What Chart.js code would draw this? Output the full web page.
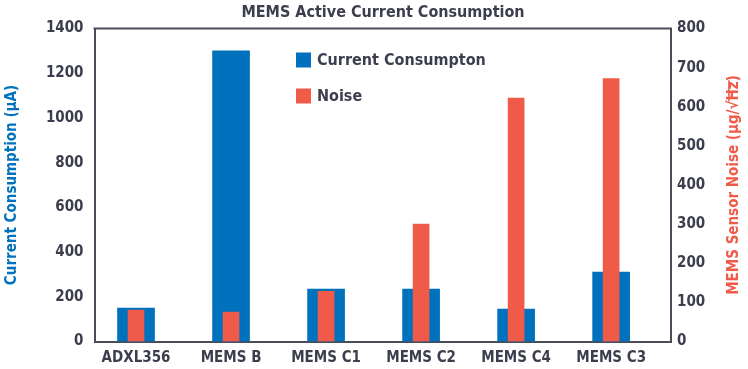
<!DOCTYPE html>
<html>
<head>
<meta charset="utf-8">
<script src="https://cdn.jsdelivr.net/npm/chart.js@4/dist/chart.umd.min.js"></script>
<style>
  html, body { margin: 0; padding: 0; background: #fff; }
  #wrap { width: 748px; height: 369px; position: relative; }
</style>
</head>
<body>
<div id="wrap"><canvas id="memsChart"></canvas></div>
<script>
  const categories = ['ADXL356', 'MEMS B', 'MEMS C1', 'MEMS C2', 'MEMS C4', 'MEMS C3'];
  const currentConsumption = [150, 1300, 235, 235, 145, 310];   // µA, left axis
  const sensorNoise = [80, 75, 128, 300, 622, 672];             // µg/√Hz, right axis

  const FONT = '"DejaVu Sans Condensed", "DejaVu Sans", sans-serif';
  const BLUE = '#0071bc';
  const RED = '#f05a48';
  const INK = '#3c3e4e';
  const AXIS = '#4a4c5a';

  // title, frame top line, legend inside the plot, right axis title (reads bottom-to-top)
  const extras = {
    id: 'extras',
    afterDraw(chart) {
      const { ctx, chartArea: a } = chart;
      ctx.save();
      ctx.font = 'bold 16px ' + FONT;
      ctx.fillStyle = INK;
      ctx.textAlign = 'center';
      ctx.textBaseline = 'middle';
      ctx.fillText('MEMS Active Current Consumption', 383, 13);

      ctx.strokeStyle = AXIS;
      ctx.lineWidth = 2;
      ctx.beginPath();
      ctx.moveTo(a.left - 1, a.top);
      ctx.lineTo(a.right + 1, a.top);
      ctx.stroke();

      ctx.textAlign = 'left';
      chart.data.datasets.forEach((ds, i) => {
        const y = a.top + 24 + i * 36;
        ctx.fillStyle = ds.backgroundColor;
        ctx.fillRect(a.left + 201.5, y, 15, 15);
        ctx.fillStyle = INK;
        ctx.fillText(ds.label, a.left + 222.5, y + 8);
      });

      const head = 'MEMS Sensor Noise (µg/√';
      const tail = 'Hz)';
      ctx.font = 'bold 15px ' + FONT;
      const w1 = ctx.measureText(head).width;
      const w2 = ctx.measureText('Hz').width;
      const w = ctx.measureText(head + tail).width;
      const asc = ctx.measureText('√').actualBoundingBoxAscent;
      ctx.translate(732, (a.top + a.bottom) / 2);
      ctx.rotate(-Math.PI / 2);
      ctx.textBaseline = 'alphabetic';
      ctx.fillStyle = RED;
      ctx.fillText(head + tail, -w / 2, 5.5);
      ctx.strokeStyle = RED;
      ctx.lineWidth = 1.5;
      ctx.beginPath();
      ctx.moveTo(-w / 2 + w1 - 1, 5.5 - asc + 0.5);
      ctx.lineTo(-w / 2 + w1 + w2 + 1, 5.5 - asc + 0.5);
      ctx.stroke();
      ctx.restore();
    }
  };

  const tickFont = { family: FONT, size: 15, weight: 'bold' };

  new Chart(document.getElementById('memsChart'), {
    type: 'bar',
    data: {
      datasets: [
        {
          label: 'Current Consumpton',
          data: currentConsumption.map((v, i) => ({ x: i, y: v })),
          backgroundColor: BLUE,
          yAxisID: 'y',
          barThickness: 37,
          grouped: false,
          order: 2
        },
        {
          label: 'Noise',
          data: sensorNoise.map((v, i) => ({ x: i, y: v })),
          backgroundColor: RED,
          yAxisID: 'y1',
          barThickness: 16,
          grouped: false,
          order: 1
        }
      ]
    },
    options: {
      responsive: true,
      maintainAspectRatio: false,
      animation: false,
      layout: { padding: { top: 28.5 } },
      plugins: {
        legend: { display: false },
        tooltip: { enabled: false },
        title: { display: false }
      },
      scales: {
        x: {
          type: 'linear',
          offset: false,
          min: -0.437,
          max: 5.63,
          afterBuildTicks: s => { s.ticks = categories.map((c, i) => ({ value: i })); },
          afterFit: s => { s.height = 27.5; },
          grid: { display: false, drawTicks: false },
          border: { color: AXIS, width: 2 },
          ticks: {
            autoSkip: false,
            maxRotation: 0,
            padding: 8,
            color: INK,
            font: tickFont,
            callback: v => categories[v] ?? ''
          }
        },
        y: {
          position: 'left',
          min: 0,
          max: 1400,
          afterFit: s => { s.width = 94.5; },
          grid: { display: false, drawTicks: false },
          border: { color: AXIS, width: 2 },
          ticks: { stepSize: 200, padding: 11, color: INK, font: tickFont, callback: v => String(v) },
          title: {
            display: true,
            text: 'Current Consumption (µA)',
            color: BLUE,
            font: { family: FONT, size: 15, weight: 'bold' },
            padding: { top: 3, bottom: 0 }
          }
        },
        y1: {
          position: 'right',
          min: 0,
          max: 800,
          afterFit: s => { s.width = 77; },
          grid: { display: false, drawTicks: false },
          border: { color: AXIS, width: 2 },
          ticks: { stepSize: 100, padding: 6, color: INK, font: tickFont, callback: v => String(v) }
        }
      }
    },
    plugins: [extras]
  });
</script>
</body>
</html>
